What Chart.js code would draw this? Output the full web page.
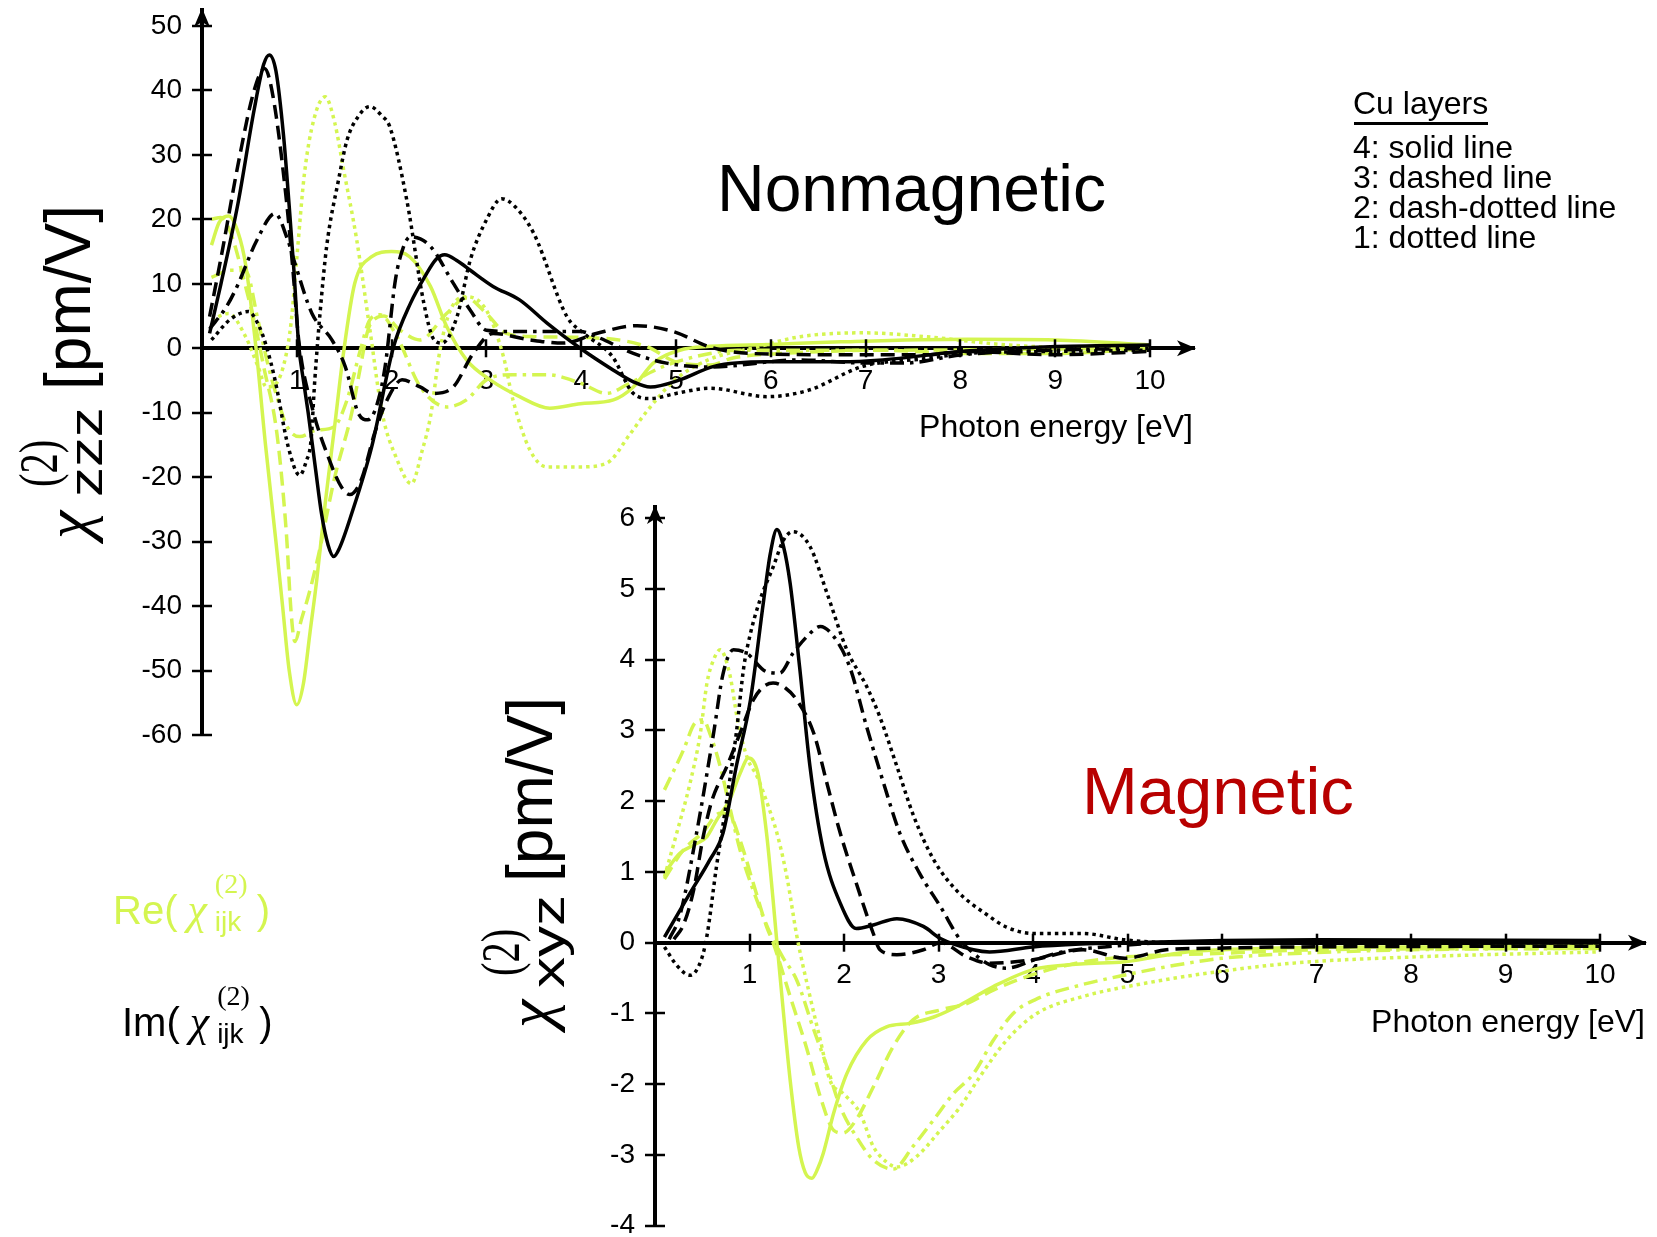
<!DOCTYPE html>
<html><head><meta charset="utf-8">
<script src="https://cdn.jsdelivr.net/npm/chart.js@4.4.1/dist/chart.umd.min.js"></script>
<style>
html,body{margin:0;padding:0;background:#fff;}
#wrap{position:relative;width:1657px;height:1237px;overflow:hidden;font-family:'Liberation Sans',Arial,sans-serif;color:#000;}
canvas{position:absolute;left:0;top:0;}
.t{position:absolute;white-space:nowrap;line-height:1;}
.chi{font-family:'Liberation Serif',serif;font-style:italic;}
.lab .chi{font-size:44px;margin:0 8px 0 10px;}
.ss{display:inline-block;position:relative;width:42px;height:0;}
.ss .sup{position:absolute;left:0;top:-54px;font-family:'Liberation Serif',serif;font-size:28px;line-height:1;}
.ss .sub{position:absolute;left:0;top:-16px;font-size:28px;line-height:1;}
.yt{position:absolute;width:0;height:0;transform:rotate(-90deg);transform-origin:0 0;}
.yt span{position:absolute;white-space:nowrap;line-height:1;transform-origin:0 0;}
</style></head>
<body><div id="wrap">
<canvas id="cBot" width="1657" height="1237"></canvas>
<canvas id="cTop" width="1657" height="1237"></canvas>

<div class="t" style="left:717px;top:155px;font-size:66px;">Nonmagnetic</div>
<div class="t" style="left:1082px;top:757px;font-size:67px;color:#b80000;">Magnetic</div>

<div class="t" style="left:1353px;top:86.5px;font-size:32px;">Cu layers</div>
<div style="position:absolute;left:1354px;top:121.5px;width:134px;height:3px;background:#000;"></div>
<div class="t" style="left:1353px;top:131px;font-size:32px;">4: solid line</div>
<div class="t" style="left:1353px;top:160.5px;font-size:32px;">3: dashed line</div>
<div class="t" style="left:1353px;top:191px;font-size:32px;">2: dash-dotted line</div>
<div class="t" style="left:1353px;top:220.5px;font-size:32px;">1: dotted line</div>

<div class="t" style="right:464px;top:410px;font-size:32px;">Photon energy [eV]</div>
<div class="t" style="right:12px;top:1005px;font-size:32px;">Photon energy [eV]</div>

<div class="t lab" style="left:113px;top:888px;font-size:40px;color:#d4f550;">Re(<span class="chi">χ</span><span class="ss"><span class="sup">(2)</span><span class="sub">ijk</span></span>)</div>
<div class="t lab" style="left:122px;top:1000px;font-size:40px;">Im(<span class="chi">χ</span><span class="ss"><span class="sup">(2)</span><span class="sub">ijk</span></span>)</div>

<div class="yt" style="left:90px;top:539px;">
  <span class="chi" style="left:0;top:-54px;font-size:64px;">χ</span>
  <span style="left:52px;top:-78px;font-size:54px;font-family:'Liberation Serif',serif;transform:scaleX(0.75);">(2)</span>
  <span style="left:42px;top:-27px;font-size:46px;transform:scaleX(1.3);">zzz</span>
  <span style="left:149px;top:-54px;font-size:64px;">[pm/V]</span>
</div>
<div class="yt" style="left:552px;top:1028px;">
  <span class="chi" style="left:0;top:-54px;font-size:64px;">χ</span>
  <span style="left:52px;top:-78px;font-size:54px;font-family:'Liberation Serif',serif;transform:scaleX(0.75);">(2)</span>
  <span style="left:40px;top:-27px;font-size:46px;transform:scaleX(1.35);">xyz</span>
  <span style="left:146px;top:-54px;font-size:64px;">[pm/V]</span>
</div>
</div>
<script>
// ---------- tick values ----------
const topXTicks = [1,2,3,4,5,6,7,8,9,10];
const topYTicks = [-60,-50,-40,-30,-20,-10,0,10,20,30,40,50];
const botXTicks = [1,2,3,4,5,6,7,8,9,10];
const botYTicks = [-4,-3,-2,-1,0,1,2,3,4,5,6];

// ---------- Nonmagnetic chi_zzz (pm/V) : [photon energy eV, value] ----------
const topImSolid = [[0.08,2.3],[0.2,10],[0.38,22.5],[0.55,37],[0.65,44],[0.71,45.5],[0.78,43],[0.86,33],[0.92,22],[0.97,12],[1.02,0.5],[1.07,-5],[1.12,-10],[1.2,-19],[1.26,-25.6],[1.33,-30.5],[1.39,-32.3],[1.45,-31],[1.58,-25.6],[1.79,-15.3],[2.02,0.2],[2.2,7],[2.35,11.1],[2.47,13.8],[2.56,14.5],[2.7,13.5],[2.83,12.1],[3.07,9.6],[3.35,7.5],[3.64,3.9],[3.99,0],[4.34,-3.4],[4.55,-5.2],[4.73,-6.0],[5.04,-4.9],[5.4,-2.8],[5.96,-2.1],[6.74,-2.1],[7.18,-1.8],[8.0,-0.5],[8.95,0.25],[10,0.5]];
const topImDashed = [[0.08,4.9],[0.2,14],[0.4,30],[0.55,40],[0.66,43.4],[0.75,39],[0.89,23],[0.96,12],[1.02,1.3],[1.16,-9.1],[1.33,-16.8],[1.47,-21.5],[1.56,-22.7],[1.68,-20.4],[1.82,-13.2],[1.97,-7.5],[2.11,-4.9],[2.3,-6],[2.44,-7.0],[2.65,-6.0],[2.86,-0.8],[3.07,2.3],[3.46,1.3],[3.81,0.8],[4.16,2.3],[4.59,3.5],[4.97,2.6],[5.36,0.2],[5.78,-0.8],[6.75,-1.0],[7.63,-1.0],[8.07,-0.5],[8.95,-1.0],[10,-0.5]];
const topImDashDot = [[0.08,3],[0.26,6.5],[0.37,9.6],[0.58,16.8],[0.77,20.9],[0.9,17],[0.98,13.2],[1.16,5.4],[1.37,1.3],[1.51,-2.8],[1.65,-10.1],[1.75,-11.1],[1.84,-9],[1.93,-3],[2.04,10.6],[2.12,15.5],[2.2,17.3],[2.41,15.8],[2.65,10.1],[2.83,5.9],[3.0,2.8],[3.28,2.6],[3.64,2.6],[3.99,2.6],[4.16,1.8],[4.55,-0.8],[4.9,-2.3],[5.36,-2.9],[6.3,-1.8],[7.0,-2.3],[7.4,-2.3],[8.02,-1.0],[8.95,-0.3],[10,0]];
const topImDotted = [[0.1,1.3],[0.3,4.5],[0.49,5.7],[0.6,3.5],[0.68,0.25],[0.77,-4.9],[0.91,-15.3],[1.03,-19.7],[1.1,-17.5],[1.15,-14.3],[1.19,-4.9],[1.245,5.4],[1.315,15.8],[1.44,26.1],[1.53,32.3],[1.65,36],[1.77,37.5],[1.9,36],[1.98,34.4],[2.16,23],[2.34,7],[2.44,1.5],[2.53,0.8],[2.69,4.9],[2.83,13.7],[3.0,19.9],[3.16,23.2],[3.3,22],[3.5,17.8],[3.85,4.9],[4.02,2.4],[4.33,-1.3],[4.55,-7],[4.73,-7.8],[5.0,-7.0],[5.36,-6.2],[5.96,-7.5],[6.4,-6.5],[6.97,-2.8],[7.63,-1.6],[8.07,-0.8],[8.95,-0.5],[10,-0.3]];
const topReSolid = [[0.1,16],[0.18,19.5],[0.28,20.5],[0.38,18],[0.46,13],[0.57,0],[0.67,-15],[0.78,-30],[0.85,-40],[0.92,-50],[1.0,-55.3],[1.07,-52],[1.14,-44],[1.21,-36],[1.3,-24],[1.4,-12],[1.49,-1],[1.61,10],[1.79,14.2],[2.0,15],[2.19,14.2],[2.41,9.6],[2.58,3.4],[2.79,-1.8],[3.04,-4.9],[3.35,-7.5],[3.67,-9.3],[3.99,-8.6],[4.34,-8.0],[4.55,-6.0],[4.76,-2.3],[5.04,-0.3],[5.36,0.3],[6,0.6],[6.74,1.0],[8.07,1.4],[9,1.3],[10,0.5]];
const topReDashed = [[0.1,20],[0.2,20.3],[0.3,18],[0.47,9],[0.58,2.3],[0.65,-2.8],[0.79,-13.2],[0.89,-28.7],[0.94,-41],[0.98,-45.5],[1.05,-42],[1.13,-38],[1.23,-32],[1.4,-20],[1.58,-10],[1.67,-3],[1.75,2.8],[1.85,4.8],[1.92,5],[2.09,2.8],[2.3,1.3],[2.58,5.4],[2.79,7.8],[3.0,5.4],[3.21,2.3],[3.5,1.8],[4.27,1.5],[4.69,0.25],[5.04,-2.3],[5.36,-2.6],[5.6,-1.5],[6.13,-0.8],[7.18,-0.3],[8,-0.8],[9,-0.8],[10,0]];
const topReDashDot = [[0.1,11],[0.3,12.1],[0.46,12],[0.59,4.4],[0.7,-2.8],[0.8,-8],[0.9,-12.2],[1.03,-13.7],[1.21,-12.7],[1.39,-12.2],[1.53,-8],[1.67,-0.3],[1.77,4.4],[1.88,5.2],[2.05,2],[2.3,-5.9],[2.58,-9.1],[2.79,-8],[3.0,-4.9],[3.28,-4.1],[3.64,-4.1],[3.99,-5.4],[4.27,-7],[4.5,-5.5],[4.87,-2.8],[5.36,-0.8],[5.65,-0.3],[7,-0.3],[10,0]];
const topReDotted = [[0.1,4.4],[0.28,5.4],[0.46,1.8],[0.59,-2.8],[0.68,-6],[0.78,-5.5],[0.88,-1.5],[0.94,4],[1.0,14],[1.08,27],[1.18,35.5],[1.3,39],[1.4,35],[1.49,28],[1.63,17],[1.77,3],[1.9,-10],[2.05,-17],[2.21,-21],[2.32,-16],[2.41,-10.6],[2.51,-0.3],[2.62,5.9],[2.79,8],[3.0,5.9],[3.18,-1.3],[3.28,-8],[3.46,-15.8],[3.64,-18.4],[3.99,-18.4],[4.27,-17.8],[4.52,-13.2],[4.68,-10],[4.99,-4.9],[5.34,-1.8],[5.87,0.25],[6.31,1.8],[6.97,2.4],[7.63,1.8],[8.51,0.5],[10,-0.3]];

// ---------- Magnetic chi_xyz (pm/V) ----------
const botImSolid = [[0.1,0.08],[0.37,0.7],[0.58,1.17],[0.72,1.55],[0.86,2.49],[1.01,3.43],[1.15,4.84],[1.22,5.5],[1.29,5.84],[1.36,5.6],[1.43,5.08],[1.53,3.9],[1.64,2.49],[1.78,1.31],[1.96,0.56],[2.13,0.2],[2.31,0.25],[2.56,0.34],[2.84,0.23],[3.02,0.06],[3.37,-0.1],[3.54,-0.13],[4.0,-0.06],[4.5,-0.02],[5,0],[6,0.03],[7,0.04],[10,0.03]];
const botImDashed = [[0.2,0.05],[0.3,0.25],[0.41,0.75],[0.51,1.5],[0.6,2.0],[0.76,2.49],[0.9,2.96],[1.04,3.43],[1.15,3.62],[1.25,3.67],[1.38,3.6],[1.5,3.43],[1.68,2.96],[1.82,2.25],[1.96,1.55],[2.13,0.84],[2.31,0.13],[2.38,-0.1],[2.56,-0.17],[2.84,-0.1],[3.02,0],[3.3,-0.2],[3.54,-0.29],[4.0,-0.24],[4.53,-0.1],[4.97,-0.22],[5.41,-0.1],[5.85,-0.08],[6.74,-0.06],[10,-0.05]];
const botImDashDot = [[0.15,0.05],[0.26,0.37],[0.44,1.55],[0.62,2.96],[0.72,3.8],[0.83,4.14],[0.97,4.09],[1.18,3.83],[1.32,3.81],[1.46,4.09],[1.61,4.33],[1.75,4.47],[1.89,4.33],[2.06,3.9],[2.24,3.05],[2.42,2.25],[2.59,1.55],[2.8,0.98],[3.02,0.51],[3.23,0.04],[3.37,-0.15],[3.54,-0.31],[3.72,-0.36],[4.0,-0.25],[4.31,-0.13],[4.75,-0.06],[5.5,0],[10,0]];
const botImDotted = [[0.1,-0.06],[0.23,-0.32],[0.37,-0.46],[0.49,-0.24],[0.55,0.1],[0.65,1.07],[0.76,2.02],[0.86,2.96],[0.94,3.9],[1.01,4.37],[1.11,4.84],[1.25,5.31],[1.36,5.69],[1.46,5.81],[1.64,5.6],[1.82,4.94],[2.03,4.14],[2.24,3.62],[2.38,3.19],[2.56,2.49],[2.74,1.78],[2.95,1.17],[3.19,0.74],[3.54,0.37],[3.72,0.22],[4.0,0.13],[4.53,0.13],[4.97,0.04],[5.5,0],[10,0]];
const botReSolid = [[0.1,0.98],[0.26,1.26],[0.44,1.4],[0.55,1.5],[0.65,1.73],[0.79,2.02],[0.9,2.39],[0.99,2.61],[1.09,2.39],[1.18,1.55],[1.25,0.6],[1.29,0],[1.36,-1.0],[1.43,-1.94],[1.52,-2.88],[1.59,-3.25],[1.66,-3.33],[1.72,-3.2],[1.78,-2.98],[1.89,-2.41],[2.03,-1.85],[2.24,-1.38],[2.45,-1.19],[2.7,-1.14],[2.95,-1.05],[3.23,-0.88],[3.58,-0.62],[4.0,-0.38],[4.5,-0.3],[4.97,-0.27],[5.63,-0.13],[6.5,-0.08],[8,-0.06],[10,-0.05]];
const botReDashed = [[0.1,0.9],[0.3,1.31],[0.5,1.55],[0.69,1.83],[0.79,1.8],[0.9,1.45],[1.04,0.84],[1.18,0.23],[1.25,0],[1.43,-0.76],[1.6,-1.47],[1.75,-2.18],[1.89,-2.65],[1.99,-2.69],[2.13,-2.5],[2.31,-2.04],[2.52,-1.47],[2.73,-1.09],[3.02,-0.95],[3.3,-0.86],[3.58,-0.67],[4.0,-0.45],[4.5,-0.28],[5,-0.2],[6,-0.15],[7,-0.1],[10,-0.08]];
const botReDashDot = [[0.1,2.16],[0.3,2.72],[0.42,3.1],[0.51,3.15],[0.58,2.96],[0.69,2.49],[0.79,1.92],[0.9,1.31],[1.04,0.74],[1.22,0.13],[1.35,-0.2],[1.5,-0.53],[1.68,-1.23],[1.82,-1.75],[1.96,-2.32],[2.13,-2.74],[2.31,-3.07],[2.52,-3.2],[2.73,-2.88],[2.95,-2.5],[3.16,-2.13],[3.37,-1.85],[3.58,-1.38],[3.79,-1.0],[4.03,-0.8],[4.5,-0.6],[5,-0.45],[5.5,-0.32],[6,-0.22],[7,-0.14],[8,-0.1],[10,-0.08]];
const botReDotted = [[0.1,0.93],[0.23,1.55],[0.37,2.25],[0.48,2.96],[0.55,3.67],[0.62,4.0],[0.69,4.14],[0.79,3.8],[0.88,3.1],[0.98,2.6],[1.08,2.35],[1.18,2.0],[1.3,1.5],[1.4,0.9],[1.5,0.1],[1.64,-0.76],[1.75,-1.38],[1.85,-1.94],[1.99,-2.13],[2.17,-2.41],[2.31,-2.88],[2.45,-3.1],[2.56,-3.17],[2.77,-3.02],[3.02,-2.65],[3.23,-2.32],[3.44,-1.89],[3.72,-1.38],[4.04,-1.0],[4.53,-0.76],[5.2,-0.57],[5.85,-0.43],[6.74,-0.29],[8.06,-0.2],[10,-0.13]];

// ---------- styling ----------
const GREEN = '#d4f550', BLACK = '#000000';
const DASH = {solid: [], dashed: [14, 7], dashdot: [14, 6, 3.5, 6], dotted: [3.5, 4]};
function ds(data, color, style) {
  return {data, borderColor: color, borderWidth: 3.5, borderDash: DASH[style], borderCapStyle: 'butt',
    pointRadius: 0, fill: false, cubicInterpolationMode: 'monotone'};
}

const axisDeco = {
  id: 'axisDeco',
  afterDraw(chart) {
    const ctx = chart.ctx, xs = chart.scales.x, ys = chart.scales.y;
    const x0 = xs.getPixelForValue(0), y0 = ys.getPixelForValue(0);
    ctx.save();
    ctx.strokeStyle = '#000'; ctx.fillStyle = '#000'; ctx.lineWidth = 2.5;
    ys.ticks.forEach(t => { const p = Math.round(ys.getPixelForValue(t.value)); ctx.beginPath(); ctx.moveTo(x0 - 10, p); ctx.lineTo(x0 + 10, p); ctx.stroke(); });
    xs.ticks.forEach(t => { const p = Math.round(xs.getPixelForValue(t.value)); ctx.beginPath(); ctx.moveTo(p, y0 - 9); ctx.lineTo(p, y0 + 9); ctx.stroke(); });
    const yt = ys.top;
    ctx.beginPath(); ctx.moveTo(x0, yt - 2); ctx.lineTo(x0 - 8, yt + 17); ctx.lineTo(x0, yt + 12); ctx.lineTo(x0 + 8, yt + 17); ctx.closePath(); ctx.fill();
    const xr = xs.right;
    ctx.beginPath(); ctx.moveTo(xr + 2, y0); ctx.lineTo(xr - 17, y0 - 8); ctx.lineTo(xr - 12, y0); ctx.lineTo(xr - 17, y0 + 8); ctx.closePath(); ctx.fill();
    ctx.restore();
  }
};

function makeChart(id, series, xMax, yMin, yMax, xTicks, yTicks, padding) {
  const tickFont = {family: "'Liberation Sans', Arial, sans-serif", size: 28};
  return new Chart(document.getElementById(id), {
    type: 'line',
    data: {datasets: series},
    options: {
      responsive: false, devicePixelRatio: 1, animation: false, events: [],
      layout: {padding},
      plugins: {legend: {display: false}, tooltip: {enabled: false}, title: {display: false}},
      scales: {
        x: {type: 'linear', position: {y: 0}, min: 0, max: xMax,
          afterFit: s => { s.height = 0; s.paddingLeft = 0; s.paddingRight = 0; },
          afterBuildTicks: s => { s.ticks = xTicks.map(v => ({value: v})); },
          grid: {display: true, drawOnChartArea: false, drawTicks: true, tickLength: 10, color: 'rgba(0,0,0,0)'},
          border: {display: true, color: '#000', width: 4},
          ticks: {autoSkip: false, maxRotation: 0, padding: 6, color: '#000', font: tickFont, callback: v => String(v)}},
        y: {type: 'linear', position: 'left', min: yMin, max: yMax,
          afterFit: s => { s.width = 100; s.paddingTop = 0; s.paddingBottom = 0; },
          afterBuildTicks: s => { s.ticks = yTicks.map(v => ({value: v})); },
          grid: {display: true, drawOnChartArea: false, drawTicks: true, tickLength: 10, color: 'rgba(0,0,0,0)'},
          border: {display: true, color: '#000', width: 4},
          ticks: {autoSkip: false, padding: 10, color: '#000', font: tickFont, callback: v => String(v)}}
      }
    },
    plugins: [axisDeco]
  });
}

makeChart('cTop', [
  ds(topImSolid, BLACK, 'solid'), ds(topImDashed, BLACK, 'dashed'), ds(topImDashDot, BLACK, 'dashdot'), ds(topImDotted, BLACK, 'dotted'),
  ds(topReSolid, GREEN, 'solid'), ds(topReDashed, GREEN, 'dashed'), ds(topReDashDot, GREEN, 'dashdot'), ds(topReDotted, GREEN, 'dotted')
], 10.464, -60, 52.47, topXTicks, topYTicks, {left: 102, right: 463, top: 10, bottom: 501.9});

makeChart('cBot', [
  ds(botImSolid, BLACK, 'solid'), ds(botImDashed, BLACK, 'dashed'), ds(botImDashDot, BLACK, 'dashdot'), ds(botImDotted, BLACK, 'dotted'),
  ds(botReSolid, GREEN, 'solid'), ds(botReDashed, GREEN, 'dashed'), ds(botReDashDot, GREEN, 'dashdot'), ds(botReDotted, GREEN, 'dotted')
], 10.476, -4, 6.158, botXTicks, botYTicks, {left: 555, right: 12, top: 507, bottom: 11.3});
</script>
</body></html>
